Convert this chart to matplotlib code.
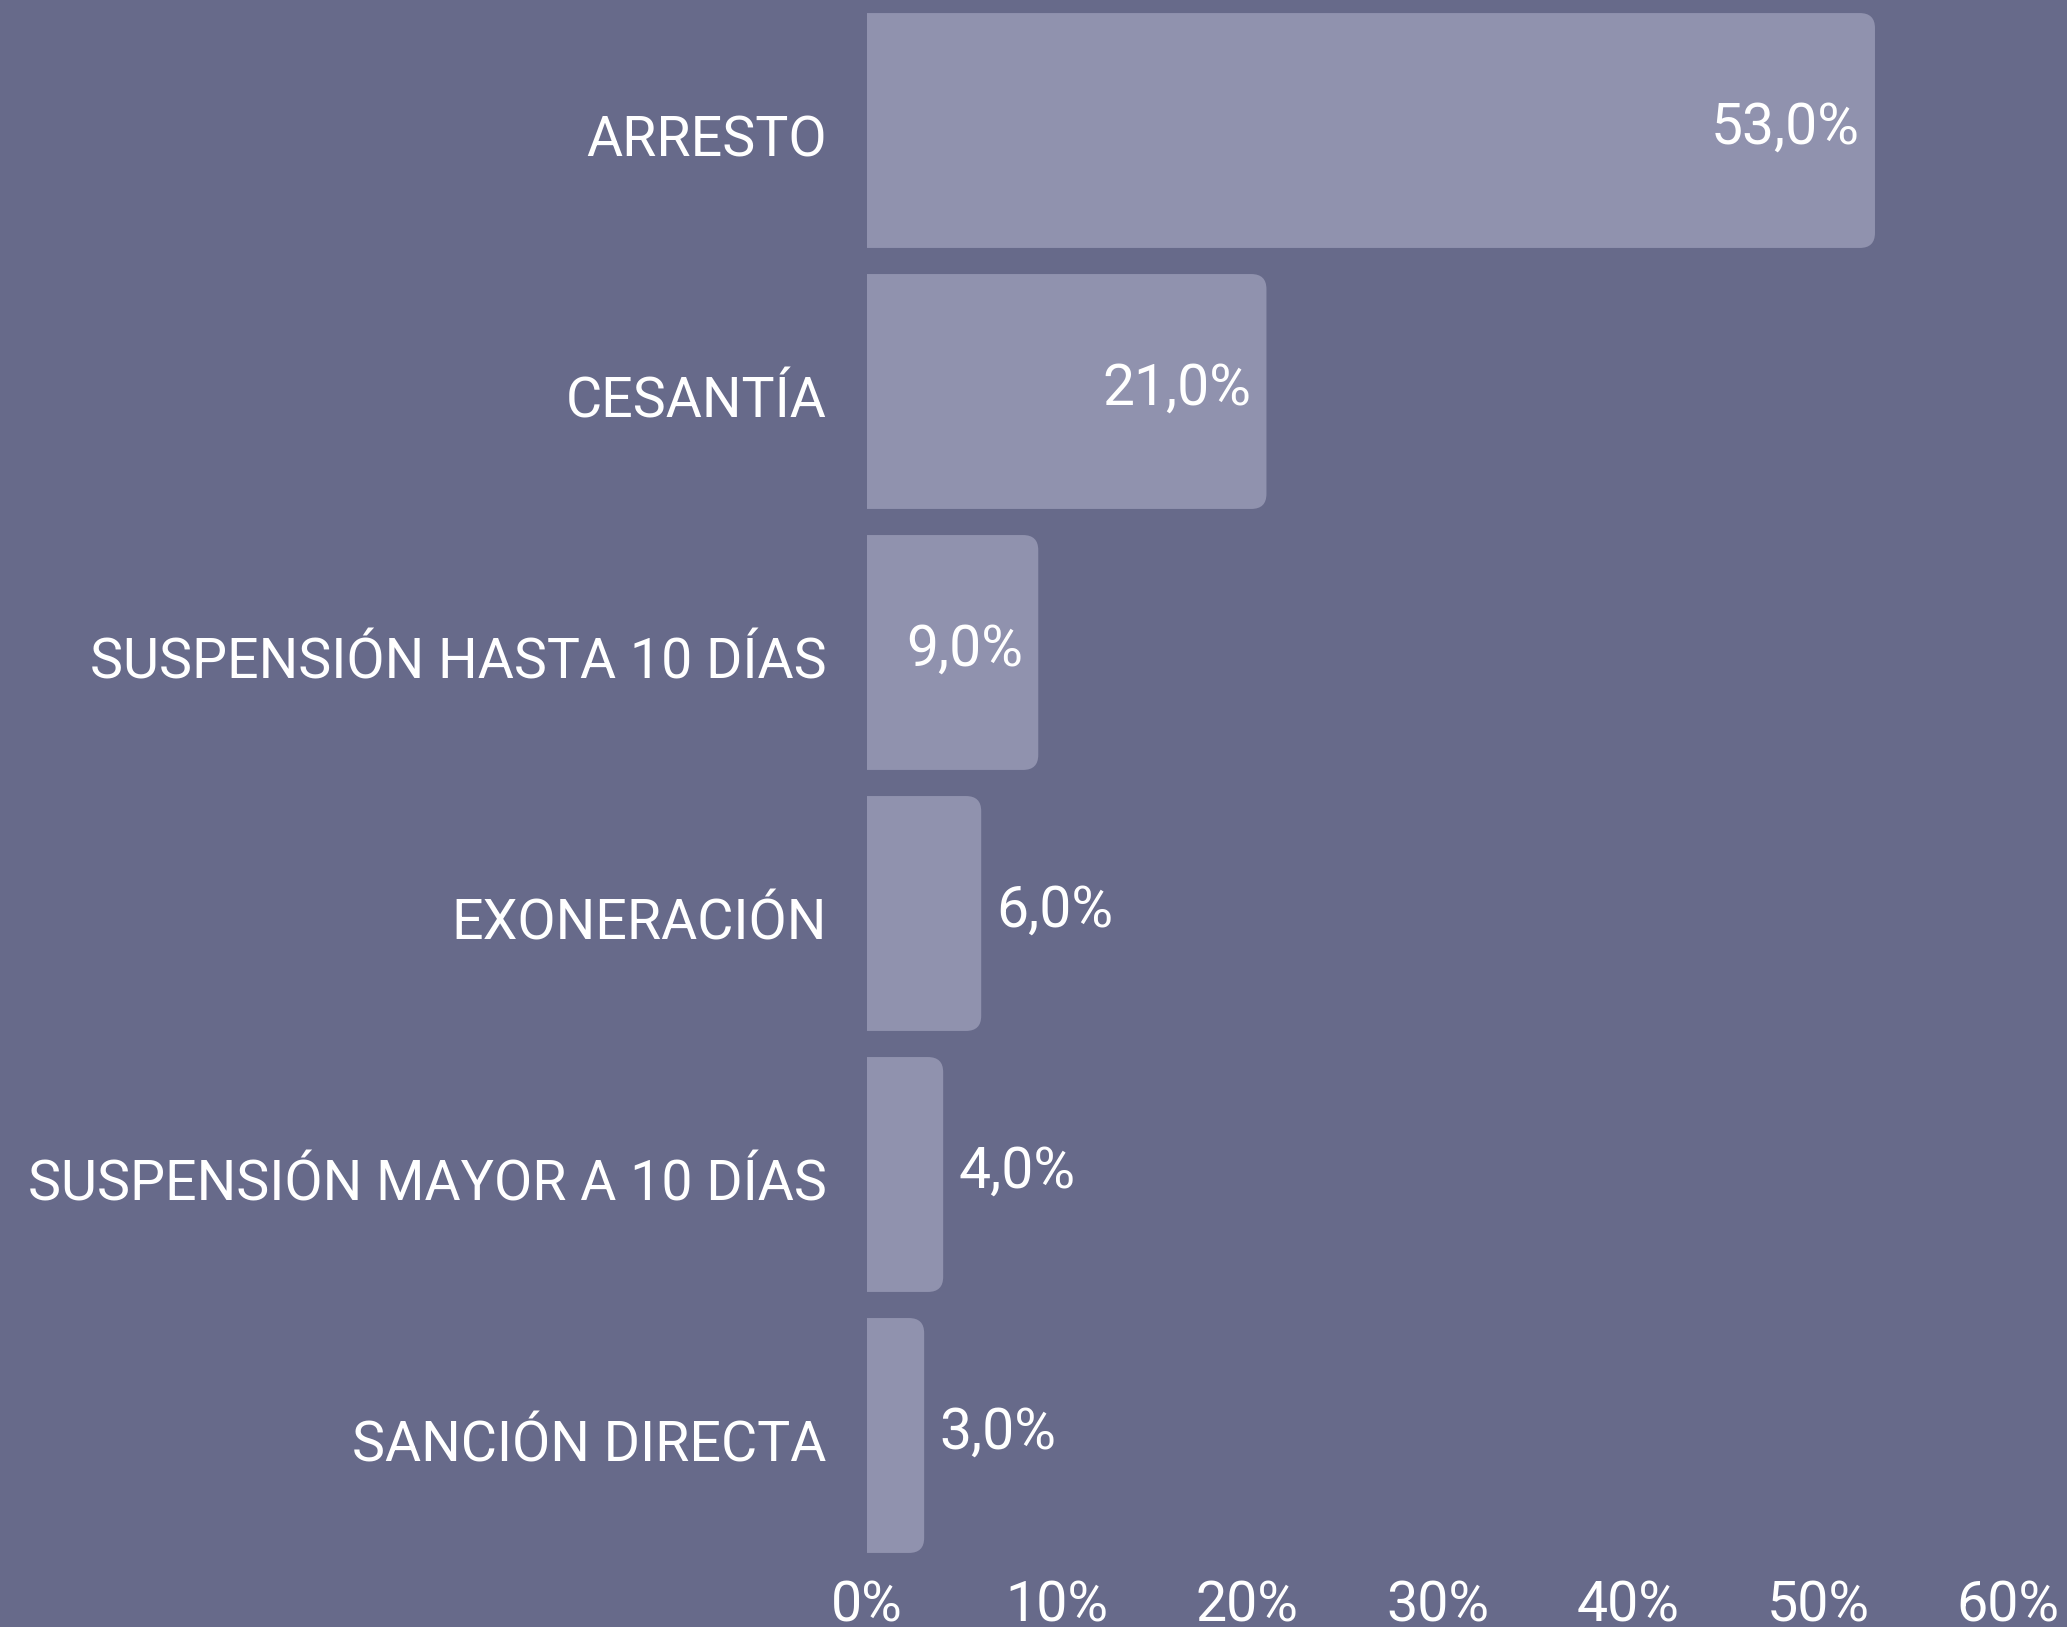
import matplotlib
matplotlib.use("Agg")
import matplotlib.pyplot as plt
from matplotlib.patches import FancyBboxPatch
from matplotlib.transforms import ScaledTranslation

categories = ["ARRESTO", "CESANTÍA", "SUSPENSIÓN HASTA 10 DÍAS", "EXONERACIÓN",
              "SUSPENSIÓN MAYOR A 10 DÍAS", "SANCIÓN DIRECTA"]
values = [53.0, 21.0, 9.0, 6.0, 4.0, 3.0]
ticks = [0, 10, 20, 30, 40, 50, 60]

bg = "#676a8a"
bar_color = "#9092ae"

plt.rcParams['font.family'] = ['Roboto', 'DejaVu Sans']

fig = plt.figure(figsize=(20.67, 16.27), dpi=100, facecolor=bg)
ax = fig.add_axes([0.4195, 0.0375, 0.9715 - 0.4195, 0.9625])
ax.set_facecolor(bg)

ypos = list(range(len(categories)))
bars = ax.barh(ypos, values, height=0.9, color="none")

# rounded right corners: x units ~18.9 px, y units ~261 px
r = 0.8
aspect = (15 / 261) / r
for b in bars:
    x0, y0, w, h = b.get_x(), b.get_y(), b.get_width(), b.get_height()
    p = FancyBboxPatch((x0 - 3, y0), w + 3, h,
                       boxstyle=f"round,pad=0,rounding_size={r}",
                       mutation_aspect=aspect, facecolor=bar_color,
                       edgecolor="none", clip_on=True)
    ax.add_patch(p)

for y, v in zip(ypos, values):
    label = f"{v:.1f}%".replace(".", ",")
    if v >= 8:
        ax.text(v - 0.8, y - 0.01, label, ha="right", va="center",
                color="white", fontsize=41)
    else:
        ax.text(v + 0.8, y - 0.01, label, ha="left", va="center",
                color="white", fontsize=41)

ax.set_xlim(0, 60)
ax.set_ylim(len(categories) - 0.5, -0.5)
ax.set_yticks(ypos)
ax.set_yticklabels(categories, fontsize=40, color="white")
ax.set_xticks(ticks)
ax.set_xticklabels([f"{t}%" for t in ticks], fontsize=40, color="white")
ax.tick_params(axis="y", length=0, pad=29)
ax.tick_params(axis="x", length=0, pad=10)
shift = ScaledTranslation(0, -11 / 100, fig.dpi_scale_trans)
for lbl in ax.get_yticklabels():
    lbl.set_va("center")
    lbl.set_transform(lbl.get_transform() + shift)
for s in ax.spines.values():
    s.set_visible(False)

fig.savefig("out.png", dpi=100, facecolor=bg)
